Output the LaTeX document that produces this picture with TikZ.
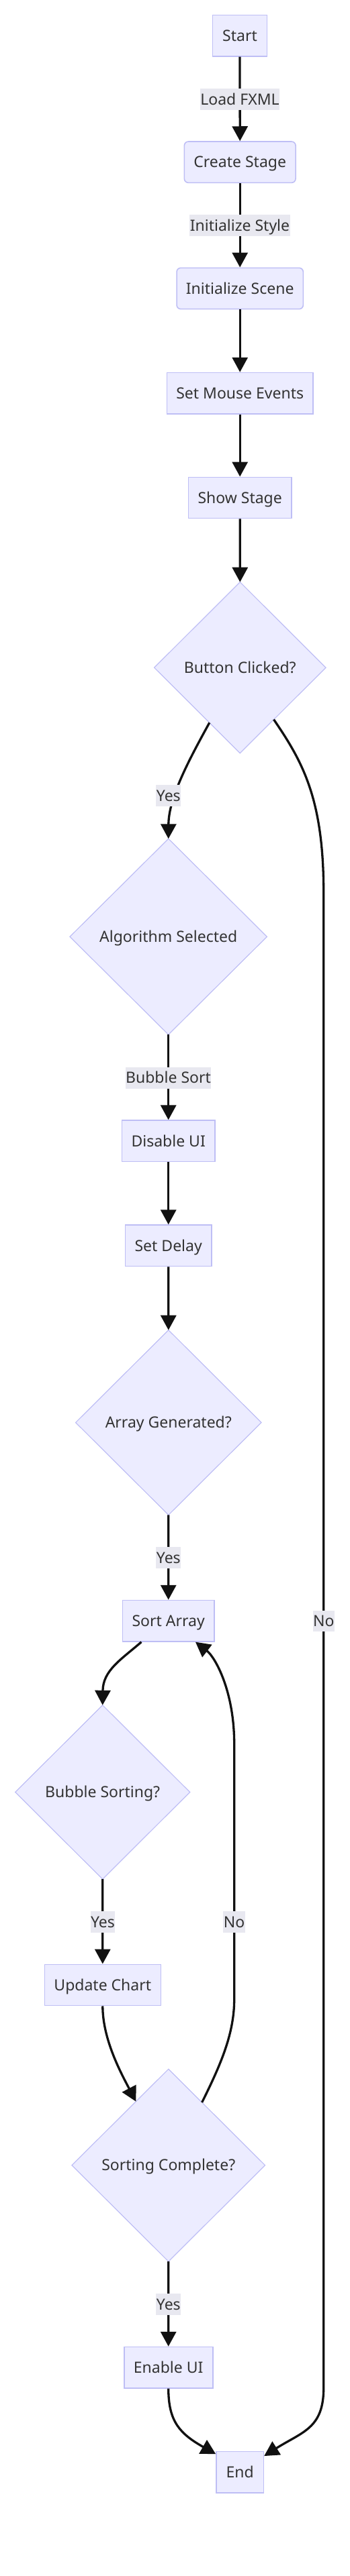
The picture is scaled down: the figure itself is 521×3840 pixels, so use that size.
\documentclass[tikz,border=0pt]{standalone}
\usepackage{fontspec}
\setmainfont{Noto Sans}
\usetikzlibrary{shapes.geometric,arrows.meta}
\definecolor{nodefill}{HTML}{ECECFF}
\definecolor{nodeborder}{RGB}{190,190,245}
\definecolor{txt}{HTML}{333333}
\definecolor{lblbg}{RGB}{232,232,240}
\definecolor{edgecol}{HTML}{111111}
\begin{document}
\begin{tikzpicture}[x=1pt,y=-1pt,
  base/.style={font=\fontsize{23pt}{28pt}\selectfont, text=txt, text height=16.4pt, text depth=0pt},
  box/.style={base, rectangle, fill=nodefill, draw=nodeborder, line width=1.6pt, inner sep=0pt, minimum height=61.3pt},
  rbox/.style={box, rounded corners=6pt},
  dia/.style={base, diamond, fill=nodefill, draw=nodeborder, line width=1.2pt, inner sep=0pt, outer sep=0pt},
  lbl/.style={base, fill=lblbg, inner xsep=0.5pt, inner ysep=0pt, minimum height=31.7pt},
  edge/.style={draw=edgecol, line width=3.3pt, -{Triangle[length=22pt,width=23pt]}},
]
\useasboundingbox (0,0) rectangle (521,3840);

\node[box, minimum width=80.7pt] (start) at (357,53.3) {Start};
\node[rbox, minimum width=165.7pt] (create) at (357.2,241.7) {Create Stage};
\node[rbox, minimum width=188.3pt] (scene) at (357.2,430) {Initialize Scene};
\node[box, minimum width=217.7pt] (mouse) at (357.2,586.2) {Set Mouse Events};
\node[box, minimum width=153.7pt] (show) at (357.2,742) {Show Stage};
\node[dia, minimum width=255.4pt, minimum height=255pt] (btn) at (357.3,995.2) {Button Clicked?};
\node[dia, minimum width=293.4pt, minimum height=292pt] (algo) at (250.7,1396.3) {Algorithm Selected};
\node[box, minimum width=138.7pt] (disable) at (250.7,1700.8) {Disable UI};
\node[box, minimum width=128.7pt] (delay) at (250.7,1856.8) {Set Delay};
\node[dia, minimum width=276.4pt, minimum height=275.6pt] (arr) at (250.8,2120.5) {Array Generated?};
\node[box, minimum width=136.7pt] (sort) at (250.7,2416.2) {Sort Array};
\node[dia, minimum width=260pt, minimum height=259.4pt] (bubble) at (152.7,2671.5) {Bubble Sorting?};
\node[box, minimum width=173pt] (update) at (152.8,2959) {Update Chart};
\node[dia, minimum width=287.6pt, minimum height=286.8pt] (complete) at (250.8,3227.7) {Sorting Complete?};
\node[box, minimum width=132pt] (enable) at (250.7,3529.2) {Enable UI};
\node[box, minimum width=70.3pt] (endn) at (357.2,3685.3) {End};

\draw[edge] (start.south) -- (create.north);
\draw[edge] (create.south) -- (scene.north);
\draw[edge] (scene.south) -- (mouse.north);
\draw[edge] (mouse.south) -- (show.north);
\draw[edge] (show.south) -- (btn.north);
\draw[edge] (btn.241) .. controls (280,1135) and (251,1190) .. (algo.north);
\draw[edge] (btn.303) .. controls (450,1135) and (481.7,1190) .. (481.7,1330) -- (481.7,3560) .. controls (481.7,3620) and (450,3625) .. (endn.34);
\draw[edge] (algo.south) -- (disable.north);
\draw[edge] (disable.south) -- (delay.north);
\draw[edge] (delay.south) -- (arr.north);
\draw[edge] (arr.south) -- (sort.north);
\draw[edge] (sort.218.5) .. controls (180,2474) and (153.3,2490) .. (bubble.north);
\draw[edge] (bubble.south) -- (update.north);
\draw[edge] (update.south) .. controls (152.8,3040) and (180,3090) .. (complete.117);
\draw[edge] (complete.62) .. controls (330,3075) and (348.7,3030) .. (348.7,2980) -- (348.7,2600) .. controls (348.7,2520) and (320,2470) .. (sort.322);
\draw[edge] (complete.south) -- (enable.north);
\draw[edge] (enable.south) .. controls (250.7,3610) and (268,3628) .. (endn.143);

\node[lbl] (l1) at (357,148) {Load FXML};
\node[lbl] (l2) at (357,336) {Initialize Style};
\node[lbl] (l3) at (250.8,1186) {Yes};
\node[lbl] (l4) at (481.8,2416.5) {No};
\node[lbl] (l5) at (250.5,1606.7) {Bubble Sort};
\node[lbl] (l6) at (250.8,2322) {Yes};
\node[lbl] (l7) at (153,2865) {Yes};
\node[lbl] (l8) at (348.5,2865) {No};
\node[lbl] (l9) at (250.8,3435) {Yes};
\end{tikzpicture}
\end{document}
